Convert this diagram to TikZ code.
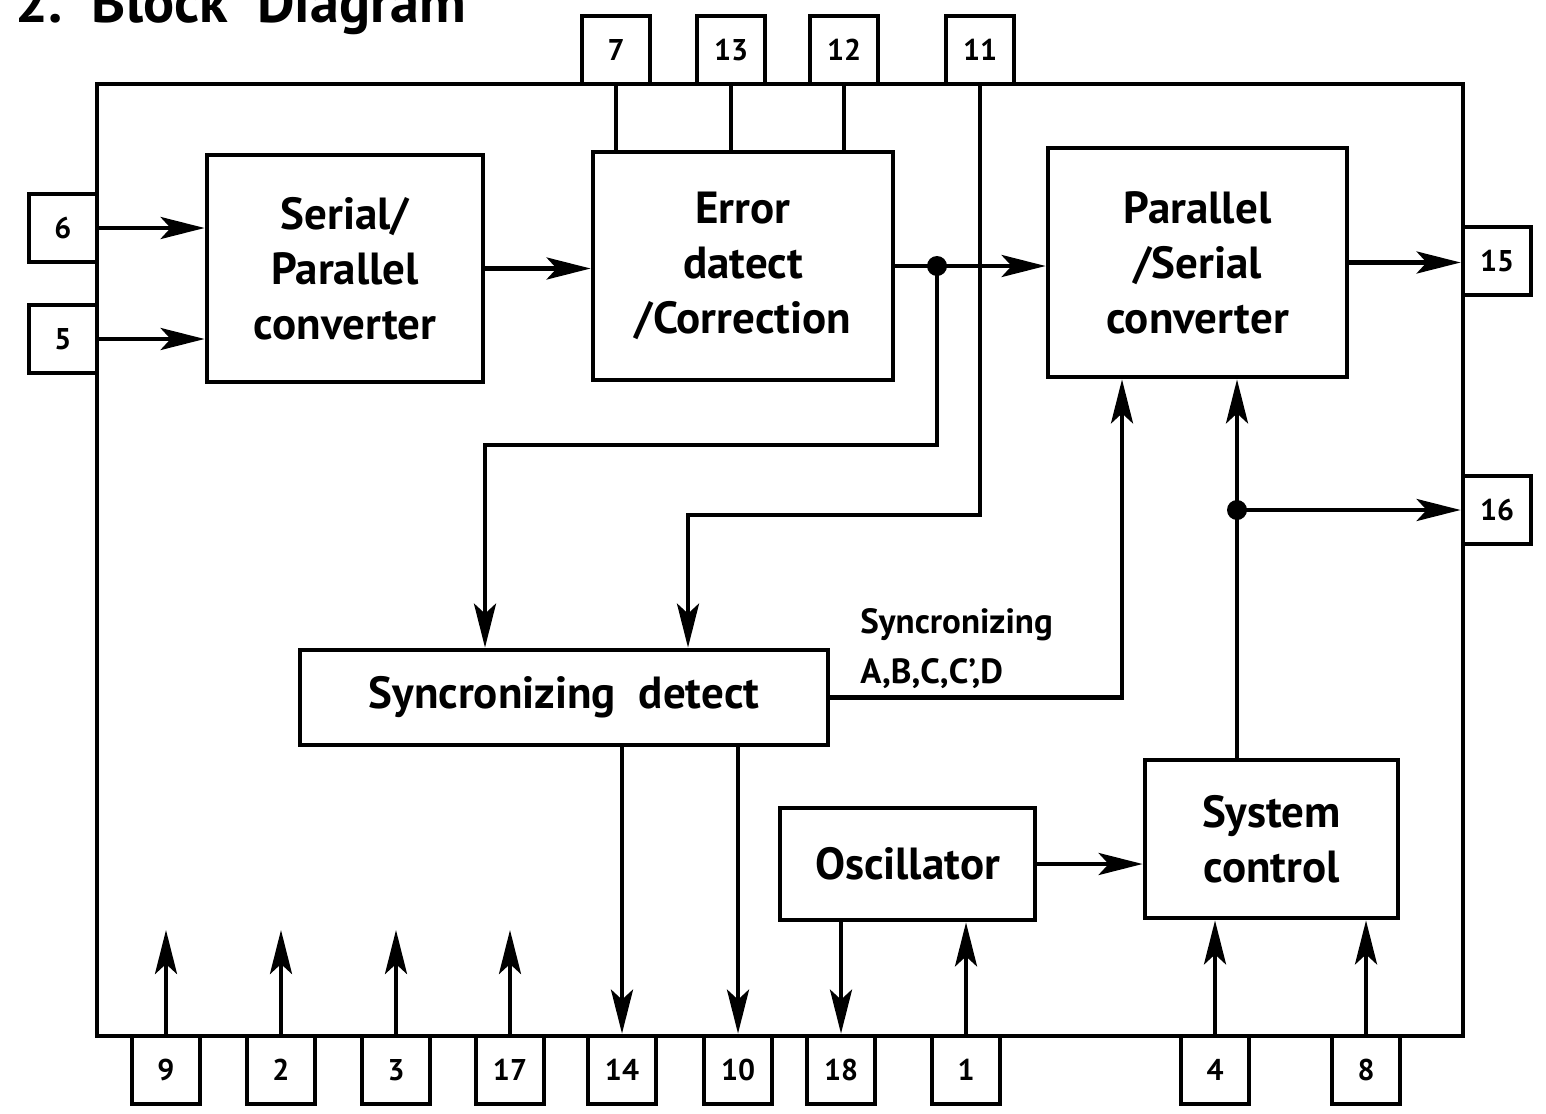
\documentclass[tikz,border=0pt]{standalone}
\usepackage{fontspec}
\setmainfont{PT Sans}
\usetikzlibrary{arrows.meta,calc}
\begin{document}
\begin{tikzpicture}[x=0.5pt,y=-0.5pt,
 box/.style={draw, line width=2.4pt, inner sep=0pt},
 blk/.style={box, align=center, font=\bfseries\fontsize{22.5}{27.5}\selectfont},
 pin/.style={box, minimum width=34pt, minimum height=34pt, font=\bfseries\fontsize{15}{17}\selectfont},
 ln/.style={line width=2.2pt},
 arr/.style={ln, -{Stealth[length=22pt,width=11pt,inset=5pt]}},
 dot/.style={circle, fill, inner sep=0pt, minimum size=10pt}]
\useasboundingbox (0,0) rectangle (1546,1113);
% title (clipped at top as in the reference)
\node[anchor=base west, inner sep=0pt, font=\bfseries\fontsize{29}{34}\selectfont] (title) at (15,23) {2.\ \ Block\ \ Diagram};
% chip outline
\node[box, minimum width=683pt, minimum height=476pt] (chip) at (780,560) {};
% blocks
\node[blk, minimum width=138pt, minimum height=113.5pt] (sp) at (345,268.5) {Serial/\\Parallel\\converter};
\node[blk, minimum width=150pt, minimum height=114pt] (ed) at (743,266) {Error\\datect\\/Correction};
\node[blk, minimum width=149.5pt, minimum height=114.5pt] (ps) at (1197.5,262.5) {Parallel\\/Serial\\converter};
\node[blk, minimum width=264pt, minimum height=47.5pt] (sd) at (564,697.5) {Syncronizing\ \ detect};
\node[blk, minimum width=127.5pt, minimum height=56pt] (osc) at (907.5,864) {Oscillator};
\node[blk, minimum width=126.5pt, minimum height=79pt] (sc) at (1271.5,839) {System\\control};
% pins
\node[pin] (p7)  at (616,50) {7};
\node[pin] (p13) at (731,50) {13};
\node[pin] (p12) at (844,50) {12};
\node[pin] (p11) at (980,50) {11};
\node[pin] (p6)  at (63,228) {6};
\node[pin] (p5)  at (63,339) {5};
\node[pin] (p15) at (1497,261) {15};
\node[pin] (p16) at (1497,510) {16};
\node[pin] (p9)  at (166,1070) {9};
\node[pin] (p2)  at (281,1070) {2};
\node[pin] (p3)  at (396,1070) {3};
\node[pin] (p17) at (510,1070) {17};
\node[pin] (p14) at (622,1070) {14};
\node[pin] (p10) at (738,1070) {10};
\node[pin] (p18) at (841,1070) {18};
\node[pin] (p1)  at (966,1070) {1};
\node[pin] (p4)  at (1215,1070) {4};
\node[pin] (p8)  at (1366,1070) {8};
% label
\node[anchor=north west, align=left, inner sep=0pt, font=\bfseries\fontsize{17.5}{25}\selectfont] (lab) at (860,608) {Syncronizing\\A,B,C,C’,D};
% helper coordinates
\coordinate (x485) at (485,0);
\coordinate (x688) at (688,0);
\coordinate (x937) at (937,0);
\coordinate (x1122) at (1122,0);
\coordinate (x1237) at (1237,0);
\coordinate (y445) at (0,445);
\coordinate (y515) at (0,515);
\coordinate (e9) at (166,930);
\coordinate (e2) at (281,930);
\coordinate (e3) at (396,930);
\coordinate (e17) at (510,930);
% connectors
\draw[arr] (p6.east) -- (sp.west |- p6.east);
\draw[arr] (p5.east) -- (sp.west |- p5.east);
\draw[arr] (sp.east) -- (ed.west |- sp.east);
\draw[arr] (ed.east) -- (ps.west |- ed.east);
\node[dot] (j1) at (ed.east -| x937) {};
\draw[arr] (j1.center) -- (x937 |- y445) -| (sd.north -| x485);
\draw[arr] (p11.south) -- (p11.south |- y515) -| (sd.north -| x688);
\draw[ln] (p7.south) -- (ed.north -| p7.south);
\draw[ln] (p13.south) -- (ed.north -| p13.south);
\draw[ln] (p12.south) -- (ed.north -| p12.south);
\draw[arr] (ps.east) -- (p15.west |- ps.east);
\draw[arr] (sd.east) -| (ps.south -| x1122);
\draw[arr] (sc.north -| x1237) -- (ps.south -| x1237);
\node[dot] (j2) at (x1237 |- p16.west) {};
\draw[arr] (j2.center) -- (p16.west);
\draw[arr] (osc.east) -- (sc.west |- osc.east);
\draw[arr] (osc.south -| p18.north) -- (p18.north);
\draw[arr] (p1.north) -- (osc.south -| p1.north);
\draw[arr] (p4.north) -- (sc.south -| p4.north);
\draw[arr] (p8.north) -- (sc.south -| p8.north);
\draw[arr] (sd.south -| p14.north) -- (p14.north);
\draw[arr] (sd.south -| p10.north) -- (p10.north);
\draw[arr] (p9.north) -- (e9);
\draw[arr] (p2.north) -- (e2);
\draw[arr] (p3.north) -- (e3);
\draw[arr] (p17.north) -- (e17);
\end{tikzpicture}
\end{document}
